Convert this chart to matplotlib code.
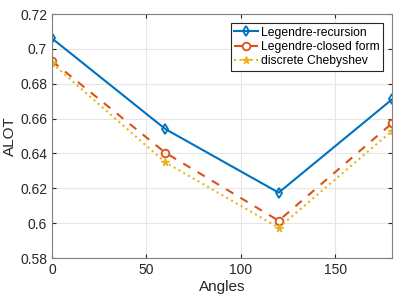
import matplotlib
matplotlib.use('Agg')
import matplotlib.pyplot as plt

angles = [0, 60, 120, 180]
legendre_rec = [0.706, 0.654, 0.6175, 0.671]
legendre_closed = [0.693, 0.6404, 0.6014, 0.6573]
chebyshev = [0.6917, 0.6349, 0.5974, 0.6529]

plt.rcParams['font.family'] = ['Liberation Sans', 'DejaVu Sans']

fig = plt.figure(figsize=(3.99, 2.99), dpi=100)
ax = fig.add_axes([52 / 399, 1 - 258 / 299, 340 / 399, 244 / 299])

ax.plot(angles, legendre_rec, '-d', color='#0072BD', lw=1.5, ms=5.5,
        mfc='none', mew=1.3, label='Legendre-recursion')
ax.plot(angles, legendre_closed, '--o', color='#D95319', lw=1.5, ms=5.5,
        mfc='none', mew=1.3, label='Legendre-closed form', dashes=(4, 4))
ax.plot(angles, chebyshev, ':*', color='#EDB120', lw=1.5, ms=5.5,
        label='discrete Chebyshev')

ax.set_xlim(0, 180)
ax.set_ylim(0.58, 0.72)
ax.set_xticks([0, 50, 100, 150])
ax.set_yticks([0.58, 0.6, 0.62, 0.64, 0.66, 0.68, 0.7, 0.72])
ax.set_yticklabels(['0.58', '0.6', '0.62', '0.64', '0.66', '0.68', '0.7', '0.72'])
ax.grid(True, color='#e6e6e6', lw=0.8)
ax.set_axisbelow(True)
ax.tick_params(direction='in', top=True, right=True, labelsize=10,
               colors='#262626', length=3, width=0.8)
for s in ax.spines.values():
    s.set_color('#808080')
    s.set_linewidth(0.8)
ax.set_xlabel('Angles', fontsize=11, color='#262626', labelpad=2)
ax.set_ylabel('ALOT', fontsize=11, color='#262626', labelpad=2)

leg = ax.legend(loc='upper right', fontsize=8.7, fancybox=False, framealpha=1,
                edgecolor='#262626', borderpad=0.3, labelspacing=0.2,
                handlelength=2.0, handletextpad=0.2, borderaxespad=0,
                bbox_to_anchor=(0.974, 0.963))
leg.get_frame().set_linewidth(0.8)

fig.savefig('out.png', dpi=100)
